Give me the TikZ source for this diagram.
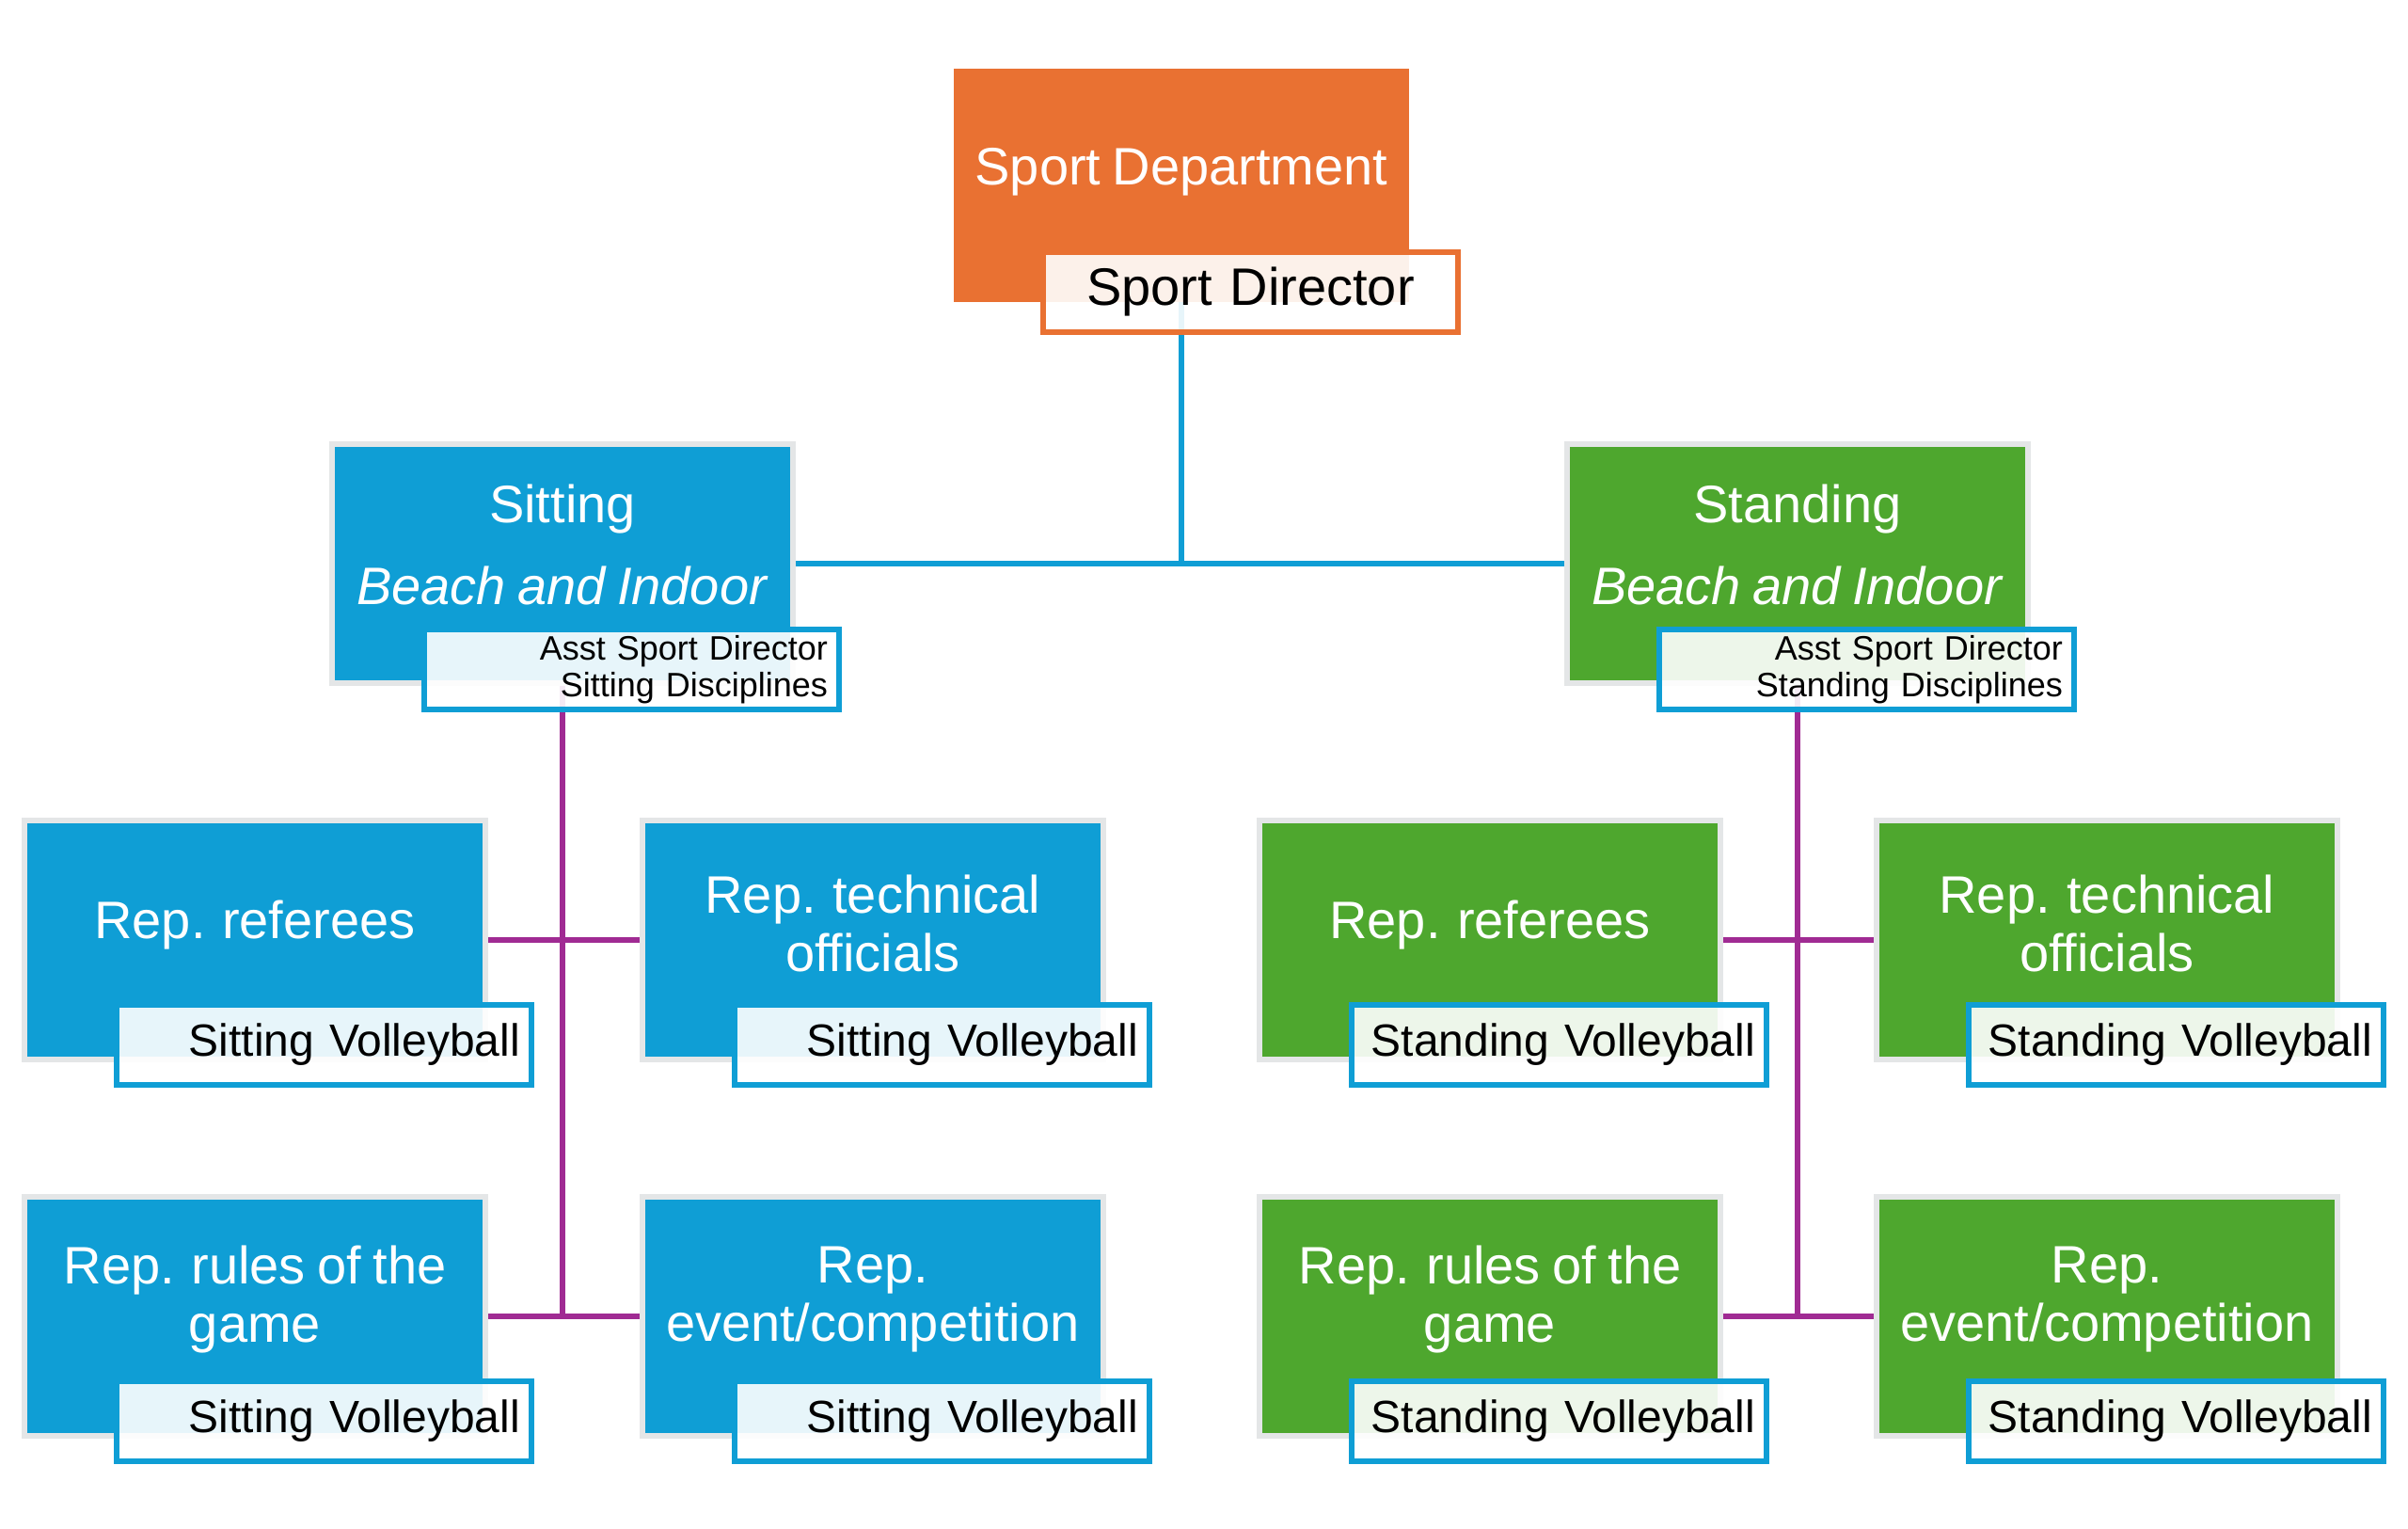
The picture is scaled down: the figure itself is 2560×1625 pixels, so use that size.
\documentclass[tikz,border=0pt]{standalone}
\usepackage{fontspec}
\setmainfont[WordSpace=0.8]{Liberation Sans}
\usetikzlibrary{calc}
\definecolor{orgc}{HTML}{E97132}
\definecolor{bluc}{HTML}{0F9ED5}
\definecolor{grnc}{HTML}{4EA72E}
\definecolor{purc}{HTML}{A02B93}
\definecolor{edgec}{HTML}{E4E6E7}
\pgfdeclarelayer{background}
\pgfsetlayers{background,main}
\tikzset{
  boxbase/.style={rectangle, inner sep=0pt, outer sep=0pt, minimum width=121pt, minimum height=62pt, anchor=north west},
  lvlbox/.style={boxbase, preaction={draw=edgec, line width=2.8pt}},
  bigtext/.style={text=white, align=center, font=\fontsize{14}{15.5}\selectfont, inner sep=0pt},
  subbox/.style={rectangle, anchor=north west, outer sep=0pt, minimum width=110.25pt, minimum height=21.25pt,
     inner xsep=3pt, inner ysep=0pt, text width=104.25pt, draw=bluc, line width=1.4pt,
     fill=white, fill opacity=0.9, text opacity=1, font=\fontsize{12}{14}\selectfont, align=right},
  conn/.style={line width=1.3pt},
}
\begin{document}
\begin{tikzpicture}[x=0.25pt,y=-0.25pt]
\useasboundingbox (0,0) rectangle (2560,1625);

% top
\node[boxbase, fill=orgc] (dept) at (1014,73) {};
\node[bigtext] (deptT) at ([yshift=3.5pt]dept.center) {Sport Department};
\node[subbox, draw=orgc, align=center, font=\fontsize{14}{16}\selectfont] (deptS) at ($(dept.south west)+(95,-53)$) {Sport Director};

% level 2
\node[lvlbox, fill=bluc] (sit) at (356,475) {};
\node[bigtext] (sitT) at ([yshift=5pt]sit.center) {Sitting\\[6.25pt]\textit{Beach and Indoor}};
\node[subbox, font=\fontsize{9}{9.8}\selectfont] (sitS) at ($(sit.south west)+(95,-54)$) {Asst Sport Director\\Sitting Disciplines};

\node[lvlbox, fill=grnc] (std) at (1669,475) {};
\node[bigtext] (stdT) at ([yshift=5pt]std.center) {Standing\\[6.25pt]\textit{Beach and Indoor}};
\node[subbox, font=\fontsize{9}{9.8}\selectfont] (stdS) at ($(std.south west)+(95,-54)$) {Asst Sport Director\\Standing Disciplines};

% level 3 sitting
\node[lvlbox, fill=bluc] (sitR) at (29,875) {};
\node[bigtext] (sitRT) at ([yshift=4pt]sitR.center) {Rep. referees};
\node[subbox] (sitRS) at ($(sitR.south west)+(95,-55)$) {Sitting Volleyball};

\node[lvlbox, fill=bluc] (sitO) at (686,875) {};
\node[bigtext] (sitOT) at ([yshift=4.5pt]sitO.center) {Rep. technical\\officials};
\node[subbox] (sitOS) at ($(sitO.south west)+(95,-55)$) {Sitting Volleyball};

\node[lvlbox, fill=bluc] (sitG) at (29,1275) {};
\node[bigtext] (sitGT) at ([yshift=4.5pt]sitG.center) {Rep. rules of the\\game};
\node[subbox] (sitGS) at ($(sitG.south west)+(95,-55)$) {Sitting Volleyball};

\node[lvlbox, fill=bluc] (sitE) at (686,1275) {};
\node[bigtext] (sitET) at ([yshift=4.5pt]sitE.center) {Rep.\\event/competition};
\node[subbox] (sitES) at ($(sitE.south west)+(95,-55)$) {Sitting Volleyball};

% level 3 standing
\node[lvlbox, fill=grnc] (stdR) at (1342,875) {};
\node[bigtext] (stdRT) at ([yshift=4pt]stdR.center) {Rep. referees};
\node[subbox] (stdRS) at ($(stdR.south west)+(95,-55)$) {Standing Volleyball};

\node[lvlbox, fill=grnc] (stdO) at (1998,875) {};
\node[bigtext] (stdOT) at ([yshift=4.5pt]stdO.center) {Rep. technical\\officials};
\node[subbox] (stdOS) at ($(stdO.south west)+(95,-55)$) {Standing Volleyball};

\node[lvlbox, fill=grnc] (stdG) at (1342,1275) {};
\node[bigtext] (stdGT) at ([yshift=4.5pt]stdG.center) {Rep. rules of the\\game};
\node[subbox] (stdGS) at ($(stdG.south west)+(95,-55)$) {Standing Volleyball};

\node[lvlbox, fill=grnc] (stdE) at (1998,1275) {};
\node[bigtext] (stdET) at ([yshift=4.5pt]stdE.center) {Rep.\\event/competition};
\node[subbox] (stdES) at ($(stdE.south west)+(95,-55)$) {Standing Volleyball};

% connectors
\begin{pgfonlayer}{background}
\draw[conn, bluc] (dept.south) -- (dept.south |- sit.east);
\draw[conn, bluc] (sit.east) -- (std.west);
\draw[conn, purc] (sit.south) -- (sit.south |- sitG.east);
\draw[conn, purc] (sitR.east) -- (sitO.west);
\draw[conn, purc] (sitG.east) -- (sitE.west);
\draw[conn, purc] (std.south) -- (std.south |- stdG.east);
\draw[conn, purc] (stdR.east) -- (stdO.west);
\draw[conn, purc] (stdG.east) -- (stdE.west);
\end{pgfonlayer}
\end{tikzpicture}
\end{document}
